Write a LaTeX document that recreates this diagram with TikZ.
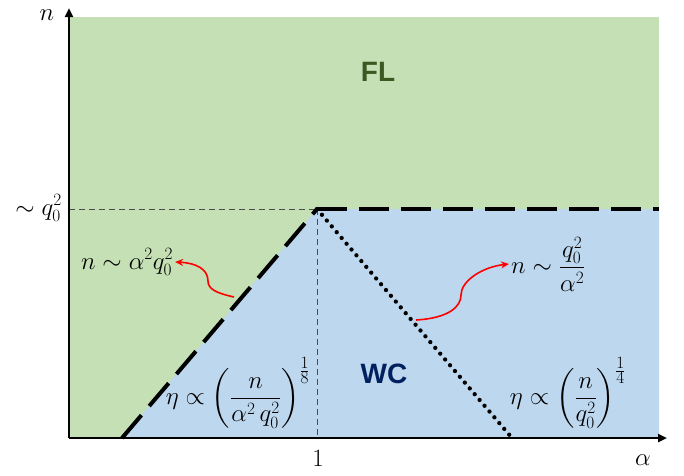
\documentclass[tikz,border=0pt]{standalone}
\usepackage{amsmath}
\usepackage{fontspec}
\newfontfamily\labfont{Liberation Sans}
\usetikzlibrary{arrows.meta}
\definecolor{flgreen}{HTML}{C5E0B4}
\definecolor{wcblue}{HTML}{BDD7EE}
\definecolor{fltext}{HTML}{3B5A22}
\definecolor{wctext}{HTML}{002060}
\tikzset{
  axis/.style={line width=2.8pt,-{Triangle[length=9pt,width=8pt]}},
  boundline/.style={line width=4pt,dash pattern=on 30pt off 12pt},
  dotline/.style={line width=4.3pt,line cap=round,dash pattern=on 0pt off 7.6pt},
  guide/.style={gray!60!black,line width=0.9pt,dash pattern=on 6pt off 4pt},
  redarrow/.style={red,line width=1.6pt,-{Stealth[length=8pt,width=7pt]}},
  mathlbl/.style={font=\fontsize{24}{28}\selectfont,inner sep=2pt},
  phaselbl/.style={font=\fontsize{28}{32}\selectfont\labfont\bfseries}
}
\newcommand{\expfrac}[2]{\frac{\scriptstyle #1}{\scriptstyle #2}}
\begin{document}
\begin{tikzpicture}[x=1pt,y=-1pt]
\useasboundingbox (0,0) rectangle (684,475);
% regions
\fill[flgreen] (69,17) rectangle (659,438);
\coordinate (b0) at (122,438);
\coordinate (c) at (317,209);
\coordinate (r) at (659,209);
\coordinate (d0) at (512,438);
\coordinate (yq) at (69,209);
\coordinate (x1) at (317,438);
\fill[wcblue] (b0) -- (c) -- (r) -- (659,438) -- cycle;
% guides
\draw[guide] (yq) -- (c);
\draw[guide] (c) -- (x1);
% boundaries
\draw[boundline] (b0) -- (c);
\draw[boundline] (c) -- (r);
\draw[dotline] (c) -- (d0);
% axes
\coordinate (o) at (69,438);
\coordinate (ytop) at (69,8);
\coordinate (xend) at (667,438);
\draw[axis] (o) -- (ytop);
\draw[axis] (o) -- (xend);
% axis labels
\node[mathlbl] (nlab) at (47,15) {$n$};
\node[mathlbl] (alab) at (643,460) {$\alpha$};
\node[mathlbl] (onelab) at (318,458) {$1$};
\node[mathlbl,anchor=east] (qlab) at (64,208) {$\sim q_0^2$};
% phase labels
\node[phaselbl,text=fltext] (fl) at (378,72) {FL};
\node[phaselbl,text=wctext] (wc) at (384,374) {WC};
% formulas
\node[mathlbl] (etal) at (238,393) {$\eta \propto \left(\dfrac{n}{\alpha^2\, q_0^2}\right)^{\expfrac{1}{8}}$};
\node[mathlbl] (etar) at (568,393) {$\eta \propto \left(\dfrac{n}{q_0^2}\right)^{\expfrac{1}{4}}$};
\node[mathlbl] (lbl1) at (127,262) {$n \sim \alpha^2 q_0^2$};
\node[mathlbl,anchor=west] (lbl2) at (509,264) {$n \sim \dfrac{q_0^2}{\alpha^2}$};
% red arrows
\coordinate (s1) at (234,297);
\coordinate (s2) at (416,320);
\draw[redarrow] (s1) .. controls (216,293) and (208,289) .. (208,281) .. controls (208,269) and (196,263) .. (lbl1.east);
\draw[redarrow] (s2) .. controls (450,318) and (461,306) .. (461,295) .. controls (461,281) and (482,267) .. (lbl2.west);
\end{tikzpicture}
\end{document}
